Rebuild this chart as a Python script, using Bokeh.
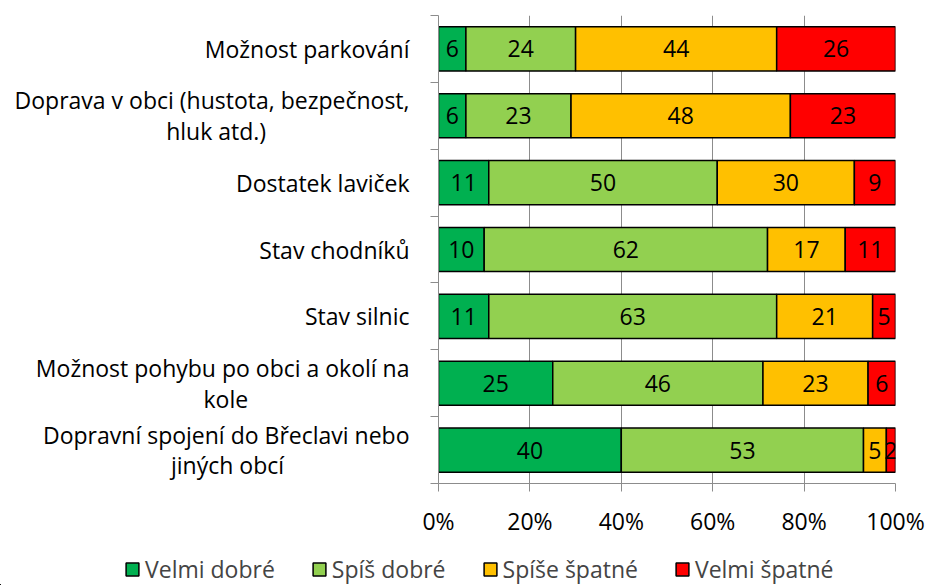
from bokeh.plotting import figure
from bokeh.layouts import column
from bokeh.models import ColumnDataSource, Range1d, FixedTicker, LinearAxis, Legend, LegendItem
from bokeh.core.properties import value
from bokeh.embed import file_html
from bokeh.resources import INLINE

NB = "\u00a0"
categories = [
    "Možnost parkování",
    "Doprava v obci (hustota, bezpečnost,\nhluk atd.)" + NB * 24,
    "Dostatek laviček",
    "Stav chodníků",
    "Stav silnic",
    "Možnost pohybu po obci a okolí na\nkole" + NB * 27,
    "Dopravní spojení do Břeclavi nebo\njiných obcí" + NB * 21,
]
velmi_dobre = [6, 6, 11, 10, 11, 25, 40]
spis_dobre = [24, 23, 50, 62, 63, 46, 53]
spise_spatne = [44, 48, 30, 17, 21, 23, 5]
velmi_spatne = [26, 23, 9, 11, 5, 6, 2]
series_names = ["Velmi dobré", "Spíš dobré", "Spíše špatné", "Velmi špatné"]
colors = ["#00B050", "#92D050", "#FFC000", "#FF0000"]
x_ticks = [0, 20, 40, 60, 80, 100]

FONT = "Open Sans"
FS = "23px"

n = len(categories)
ycent = [i + 0.5 for i in range(n)]
series = [velmi_dobre, spis_dobre, spise_spatne, velmi_spatne]

p = figure(width=926, height=548, output_backend="svg", toolbar_location=None,
           x_range=Range1d(0, 100), y_range=Range1d(n, 0),
           y_axis_location=None, x_axis_location="below",
           min_border_top=15, min_border_right=31, min_border_left=438, min_border_bottom=65)
p.outline_line_color = None
p.background_fill_color = "white"
p.frame_align = False

# grid
p.xgrid.ticker = FixedTicker(ticks=x_ticks)
p.xgrid.grid_line_color = "#8c8c8c"
p.xgrid.grid_line_width = 1
p.ygrid.grid_line_color = None

# legend strip figure (its ranges keep the carried bars out of view)
lp = figure(width=926, height=37, output_backend="svg", toolbar_location=None,
            x_range=Range1d(1000, 1001), y_range=Range1d(1000, 1001),
            x_axis_location=None, y_axis_location=None,
            min_border=0)
lp.frame_align = False
lp.outline_line_color = None
lp.grid.grid_line_color = None
items = []

# bars
left = [0] * n
for name, vals, col in zip(series_names, series, colors):
    right = [l + v for l, v in zip(left, vals)]
    mid = [(l + r) / 2 for l, r in zip(left, right)]
    src = ColumnDataSource(dict(y=ycent, left=left, right=right, mid=mid,
                                txt=[str(v) for v in vals]))
    p.hbar(y="y", left="left", right="right", height=0.66, source=src,
           fill_color=col, line_color="black", line_width=1.5)
    p.text(x="mid", y="y", text="txt", source=src, text_align="center",
           text_baseline="middle", text_font=value(FONT), text_font_size=FS,
           text_color="black")
    r = lp.hbar(y="y", left="left", right="right", height=0.66, source=src,
                fill_color=col, line_color="black", line_width=1.5)
    items.append(LegendItem(label=name, renderers=[r]))
    left = right

# x axis
xa = p.xaxis[0]
xa.ticker = FixedTicker(ticks=x_ticks)
xa.major_label_overrides = {t: f"{t}%" for t in x_ticks}
xa.major_label_text_font = FONT
xa.major_label_text_font_size = FS
xa.major_label_text_color = "black"
xa.axis_line_color = "#8c8c8c"
xa.major_tick_line_color = "#8c8c8c"
xa.major_tick_out = 8
xa.major_tick_in = 0
xa.minor_tick_line_color = None
xa.major_label_standoff = 13

# left tick axis at category boundaries
ya = LinearAxis(ticker=FixedTicker(ticks=list(range(n + 1))))
ya.major_label_overrides = {t: "" for t in range(n + 1)}
ya.major_label_text_font_size = "20px"
ya.major_label_standoff = 0
ya.axis_line_color = "#8c8c8c"
ya.major_tick_line_color = "#8c8c8c"
ya.major_tick_out = 8
ya.major_tick_in = 0
ya.minor_tick_line_color = None
p.add_layout(ya, "left")

# label axis
yl = LinearAxis(ticker=FixedTicker(ticks=ycent))
yl.major_label_overrides = {c: lab for c, lab in zip(ycent, categories)}
yl.major_label_text_font = FONT
yl.major_label_text_font_size = FS
yl.major_label_text_color = "black"
yl.major_label_text_line_height = 0.96
yl.axis_line_color = None
yl.major_tick_line_color = None
yl.minor_tick_line_color = None
yl.major_label_standoff = 15
p.add_layout(yl, "left")

legend = Legend(items=items, orientation="horizontal", location=(124, 0),
                label_text_font=FONT, label_text_font_size=FS,
                glyph_width=16, glyph_height=16, spacing=36, label_standoff=5,
                border_line_color=None, background_fill_alpha=0, padding=0, margin=0)
lp.add_layout(legend, "center")

open("out.html", "w").write(file_html(column(p, lp), INLINE))
